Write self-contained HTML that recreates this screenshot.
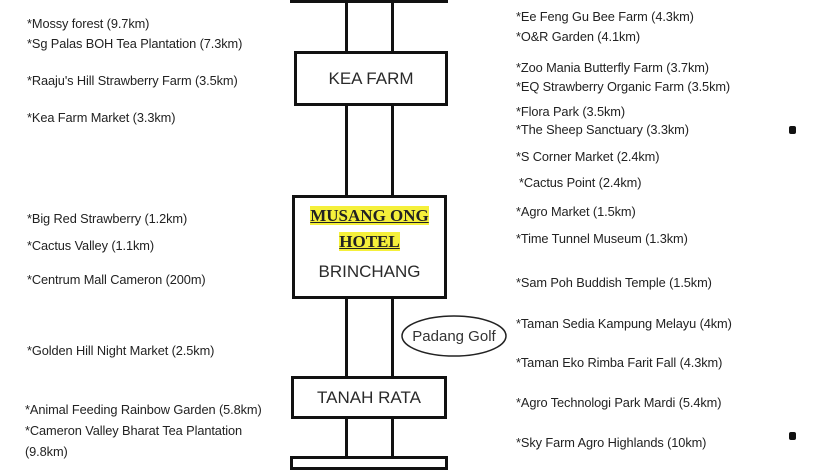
<!DOCTYPE html>
<html><head><meta charset="utf-8"><style>
body{margin:0;width:840px;height:460px;background:#fff;position:relative;overflow:hidden;font-family:"Liberation Sans",sans-serif;color:#222}
.t{position:absolute;font-size:12.8px;white-space:nowrap;line-height:14px;transform:translateY(-7px);letter-spacing:-0.1px}
.v{position:absolute;width:3px;background:#111}
.box{position:absolute;border:3px solid #111;background:#fff;box-sizing:border-box;text-align:center;font-size:17px;color:#2a2a2a}
</style></head><body>
<div class="v" style="left:345px;top:0;height:460px"></div>
<div class="v" style="left:391px;top:0;height:460px"></div>
<div class="box" style="left:290px;top:-10px;width:158px;height:13px"></div>
<div class="box" style="left:294px;top:51px;width:154px;height:55px;line-height:49px">KEA FARM</div>
<div class="box" style="left:292px;top:195px;width:155px;height:104px">
<div style="margin-top:5px;font-family:'Liberation Serif',serif;font-weight:bold;font-size:17px;line-height:26px;color:#222"><span style="background:#f5f03a;text-decoration:underline">MUSANG ONG</span><br><span style="background:#f5f03a;text-decoration:underline">HOTEL</span></div>
<div style="margin-top:7px">BRINCHANG</div></div>
<div class="box" style="left:291px;top:376px;width:156px;height:43px;line-height:37px">TANAH RATA</div>
<div class="box" style="left:290px;top:456px;width:158px;height:14px"></div>
<svg style="position:absolute;left:0;top:0" width="840" height="460"><ellipse cx="454" cy="336" rx="52" ry="20" fill="#fff" stroke="#222" stroke-width="1.5"/><text x="454" y="341" font-family="Liberation Sans" font-size="15" text-anchor="middle" fill="#333">Padang Golf</text></svg>
<div class="t" style="left:27px;top:24px">*Mossy forest (9.7km)</div>
<div class="t" style="left:27px;top:44px">*Sg Palas BOH Tea Plantation (7.3km)</div>
<div class="t" style="left:27px;top:81px">*Raaju's Hill Strawberry Farm (3.5km)</div>
<div class="t" style="left:27px;top:118px">*Kea Farm Market (3.3km)</div>
<div class="t" style="left:27px;top:219px">*Big Red Strawberry (1.2km)</div>
<div class="t" style="left:27px;top:246px">*Cactus Valley (1.1km)</div>
<div class="t" style="left:27px;top:280px">*Centrum Mall Cameron (200m)</div>
<div class="t" style="left:27px;top:351px">*Golden Hill Night Market (2.5km)</div>
<div class="t" style="left:25px;top:410px">*Animal Feeding Rainbow Garden (5.8km)</div>
<div class="t" style="left:25px;top:431px">*Cameron Valley Bharat Tea Plantation</div>
<div class="t" style="left:25px;top:452px">(9.8km)</div>
<div class="t" style="left:516px;top:17px">*Ee Feng Gu Bee Farm (4.3km)</div>
<div class="t" style="left:516px;top:37px">*O&amp;R Garden (4.1km)</div>
<div class="t" style="left:516px;top:68px">*Zoo Mania Butterfly Farm (3.7km)</div>
<div class="t" style="left:516px;top:87px">*EQ Strawberry Organic Farm (3.5km)</div>
<div class="t" style="left:516px;top:112px">*Flora Park (3.5km)</div>
<div class="t" style="left:516px;top:130px">*The Sheep Sanctuary (3.3km)</div>
<div class="t" style="left:516px;top:157px">*S Corner Market (2.4km)</div>
<div class="t" style="left:519px;top:183px">*Cactus Point (2.4km)</div>
<div class="t" style="left:516px;top:212px">*Agro Market (1.5km)</div>
<div class="t" style="left:516px;top:239px">*Time Tunnel Museum (1.3km)</div>
<div class="t" style="left:516px;top:283px">*Sam Poh Buddish Temple (1.5km)</div>
<div class="t" style="left:516px;top:324px">*Taman Sedia Kampung Melayu (4km)</div>
<div class="t" style="left:516px;top:363px">*Taman Eko Rimba Farit Fall (4.3km)</div>
<div class="t" style="left:516px;top:403px">*Agro Technologi Park Mardi (5.4km)</div>
<div class="t" style="left:516px;top:443px">*Sky Farm Agro Highlands (10km)</div>
<div style="position:absolute;left:789px;top:126px;width:7px;height:8px;background:#111;border-radius:2px"></div>
<div style="position:absolute;left:789px;top:432px;width:7px;height:8px;background:#111;border-radius:2px"></div>
</body></html>
